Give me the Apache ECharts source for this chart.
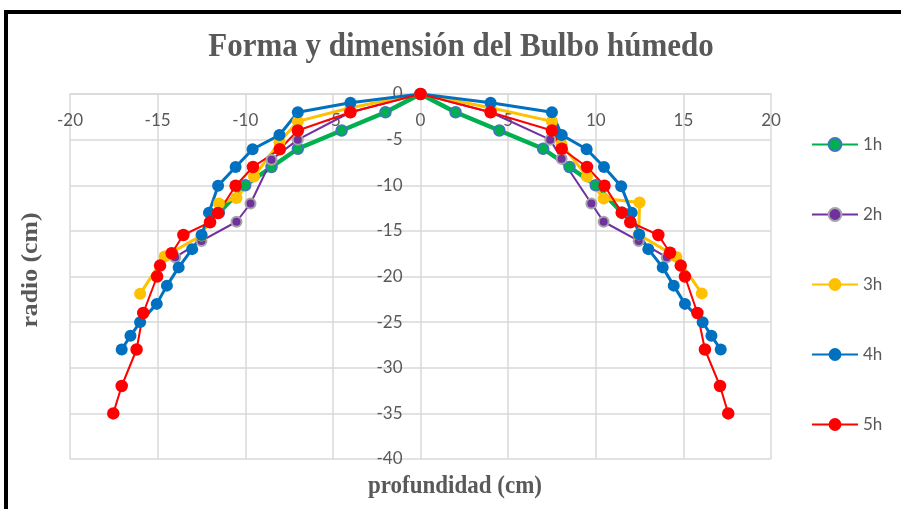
<!DOCTYPE html>
<html><head><meta charset="utf-8">
<script src="https://cdn.jsdelivr.net/npm/echarts@6/dist/echarts.min.js"></script>
<style>html,body{margin:0;padding:0;background:#fff}#c{width:901px;height:509px}</style>
</head><body><div id="c"></div>
<script>
// ---- data ----
const seriesNames = ['1h', '2h', '3h', '4h', '5h'];
const xTickLabels = [-20, -15, -10, -5, 0, 5, 10, 15, 20];
const yTickLabels = [0, -5, -10, -15, -20, -25, -30, -35, -40];

const h1X = [-11.5, -10, -8.5, -7, -4.5, -2, 0, 2, 4.5, 7, 8.5, 10, 11.5];
const h1Y = [-13, -10, -8, -6, -4, -2, 0, -2, -4, -6, -8, -10, -13];

const h2X = [-14, -12.5, -10.5, -9.7, -8.5, -7, -4, 0, 4, 7.4, 8.05, 9.75, 10.45, 12.45, 14.05];
const h2Y = [-17.9, -16.1, -14, -12, -7.2, -5, -2, 0, -2, -5, -7.1, -12, -14, -16.1, -17.9];

const h3X = [-16, -14.6, -12.5, -11.5, -10.5, -9.5, -8.05, -7, -4, 0, 4, 7.5, 8.05, 9.5, 10.45, 12.5, 12.45, 14.6, 16.05];
const h3Y = [-21.9, -17.8, -15.5, -12, -11.4, -9.05, -5.3, -3, -1.5, 0, -1.5, -3, -5.5, -9.05, -11.45, -11.9, -15.4, -17.85, -21.85];

const h4X = [-17.05, -16.55, -16, -15.05, -14.47, -13.8, -13.03, -12.49, -12.07, -11.55, -10.55, -9.58, -8.05, -7, -4, 0, 4, 7.5, 8.06, 9.48, 10.47, 11.45, 12.05, 12.48, 13, 13.82, 14.45, 15.09, 16.1, 16.6, 17.13];
const h4Y = [-28, -26.5, -25, -23, -21, -19, -17, -15.45, -13, -10.05, -8, -6.05, -4.5, -2, -0.95, 0, -0.95, -2, -4.5, -6.05, -8, -10.1, -13, -15.4, -17, -19, -21, -23, -25, -26.5, -28];

const h5X = [-17.53, -17.05, -16.2, -15.82, -15.03, -14.86, -14.2, -13.53, -12.01, -11.55, -10.55, -9.56, -8.03, -7, -4, 0, 4, 7.5, 8.06, 9.5, 10.5, 11.48, 11.97, 13.57, 14.24, 14.85, 15.09, 15.8, 16.23, 17.09, 17.56];
const h5Y = [-35, -32, -28, -24, -20, -18.8, -17.45, -15.45, -14.05, -13.05, -10.05, -8, -6.05, -4, -2, 0, -2, -4, -6, -8, -10.05, -13, -14.05, -15.45, -17.4, -18.8, -20, -24, -28, -32, -35];

// ---- build ----
const zip = (xs, ys) => xs.map((x, i) => [x, ys[i]]);
const seriesData = [zip(h1X, h1Y), zip(h2X, h2Y), zip(h3X, h3Y), zip(h4X, h4Y), zip(h5X, h5Y)];
const styles = [
  {color: '#00B050', width: 4.5, size: 11, border: '#4472C4', bw: 1.5},
  {color: '#7030A0', width: 2, size: 10, border: '#A5A5A5', bw: 2},
  {color: '#FFC000', width: 3, size: 12, border: '#FFC000', bw: 0},
  {color: '#0070C0', width: 3, size: 12, border: '#0070C0', bw: 0},
  {color: '#FF0000', width: 2, size: 12.5, border: '#FF0000', bw: 0}
];

const gridCol = '#D9D9D9';
const txtCol = '#595959';
const gridLeft = 70, gridTop = 94, gridWidth = 701, gridHeight = 365;
const gridRect = {left: gridLeft, top: gridTop, width: gridWidth, height: gridHeight, containLabel: false};
const halfRect = {left: gridLeft, top: gridTop, width: gridWidth / 2, height: gridHeight, containLabel: false};
const xMin = xTickLabels[0], xMax = xTickLabels[xTickLabels.length - 1];
const yMin = yTickLabels[yTickLabels.length - 1], yMax = yTickLabels[0];
const labelStyle = {color: txtCol, fontSize: 17, fontFamily: 'Lato', hideOverlap: false, margin: 18};

const chart = echarts.init(document.getElementById('c'));
chart.setOption({
  animation: false,
  backgroundColor: '#fff',
  grid: [Object.assign({}, gridRect), Object.assign({}, gridRect), Object.assign({}, halfRect)],
  xAxis: [{
    gridIndex: 0, type: 'value', position: 'top', min: xMin, max: xMax, interval: 5,
    axisLine: {show: true, onZero: false, lineStyle: {color: gridCol, width: 1.5}},
    axisTick: {show: false},
    axisLabel: {show: false},
    splitLine: {show: true, lineStyle: {color: gridCol, width: 1.5}}
  }, {
    gridIndex: 1, type: 'value', position: 'top', min: xMin, max: xMax, interval: 5,
    axisLine: {show: false, onZero: false},
    axisTick: {show: false},
    axisLabel: Object.assign({inside: true, showMinLabel: true, showMaxLabel: true}, labelStyle),
    splitLine: {show: false}
  }, {
    gridIndex: 2, type: 'value', min: xMin, max: 0, show: false
  }],
  yAxis: [{
    gridIndex: 0, type: 'value', position: 'left',
    min: yMin, max: yMax, interval: 5,
    axisLine: {show: false, onZero: false},
    axisTick: {show: false},
    axisLabel: {show: false},
    splitLine: {show: true, lineStyle: {color: gridCol, width: 1.5}}
  }, {
    gridIndex: 1, type: 'value', min: yMin, max: yMax, interval: 5, show: false
  }, {
    gridIndex: 2, type: 'value', position: 'right',
    min: yMin, max: yMax, interval: 5,
    axisLine: {show: false, onZero: false},
    axisTick: {show: false},
    axisLabel: Object.assign({inside: true}, labelStyle),
    splitLine: {show: false}
  }],
  legend: {
    orient: 'vertical', left: 806, top: 131, itemWidth: 46, itemHeight: 16, itemGap: 53,
    textStyle: {color: txtCol, fontSize: 17, fontFamily: 'Lato'},
    data: seriesNames
  },
  series: seriesNames.map((n, i) => ({
    name: n, type: 'line', data: seriesData[i], symbol: 'circle', symbolSize: styles[i].size,
    xAxisIndex: 0, yAxisIndex: 0, showAllSymbol: true,
    lineStyle: {color: styles[i].color, width: styles[i].width},
    itemStyle: {color: styles[i].color, borderColor: styles[i].border, borderWidth: styles[i].bw},
    emphasis: {disabled: true}
  })),
  graphic: [
    {type: 'rect', shape: {x: 4, y: 10, width: 897, height: 4}, style: {fill: '#000'}},
    {type: 'rect', shape: {x: 4, y: 10, width: 4, height: 499}, style: {fill: '#000'}},
    {type: 'text', x: 461, y: 47, scaleY: 1.12, style: {text: 'Forma y dimensión del Bulbo húmedo', font: 'bold 31px "Liberation Serif"', fill: txtCol, textAlign: 'center', textVerticalAlign: 'middle'}},
    {type: 'text', x: 455, y: 486, scaleY: 1.1, style: {text: 'profundidad (cm)', font: 'bold 23px "Liberation Serif"', fill: txtCol, textAlign: 'center', textVerticalAlign: 'middle'}},
    {type: 'text', x: 31, y: 270, rotation: Math.PI / 2, scaleX: 1.12, style: {text: 'radio (cm)', font: 'bold 23px "Liberation Serif"', fill: txtCol, textAlign: 'center', textVerticalAlign: 'middle'}}
  ]
});
</script></body></html>
